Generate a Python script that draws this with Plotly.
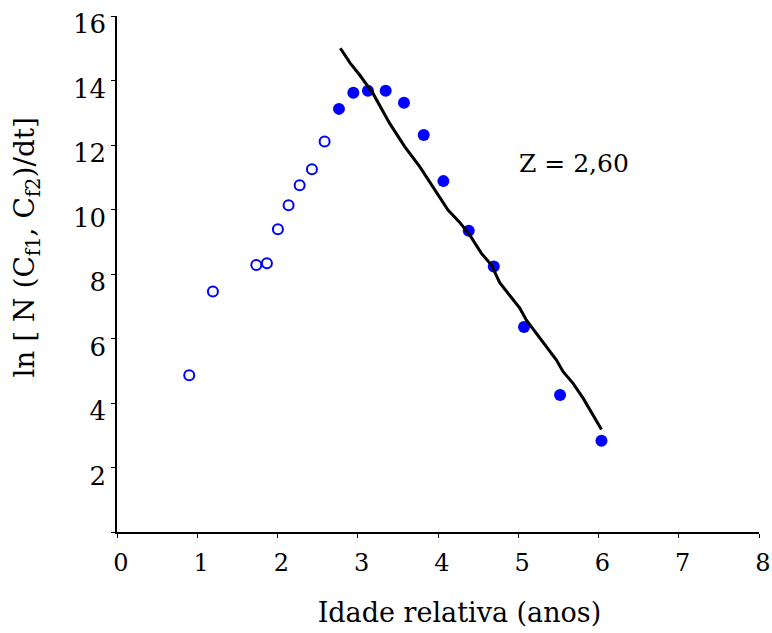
import plotly.graph_objects as go

# Open circles (ascending limb)
open_x = [0.90, 1.195, 1.736, 1.868, 2.005, 2.138, 2.276, 2.429, 2.587]
open_y = [4.86, 7.46, 8.28, 8.33, 9.39, 10.13, 10.75, 11.25, 12.11]

# Filled circles (descending limb)
fill_x = [2.766, 2.945, 3.127, 3.348, 3.576, 3.822, 4.067, 4.383, 4.695, 5.072, 5.521, 6.037]
fill_y = [13.12, 13.62, 13.68, 13.68, 13.31, 12.31, 10.88, 9.34, 8.23, 6.36, 4.25, 2.83]

# Fitted line (as drawn)
line_x = [2.783, 2.908, 3.024, 3.190, 3.398, 3.585, 3.772, 3.938, 4.125, 4.271, 4.395,
          4.541, 4.666, 4.769, 4.894, 5.019, 5.102, 5.227, 5.393, 5.476, 5.559, 5.683,
          5.808, 5.933, 6.037]
line_y = [15.00, 14.53, 14.17, 13.60, 12.67, 11.95, 11.33, 10.71, 9.98, 9.60, 9.21,
          8.64, 8.28, 7.73, 7.35, 6.94, 6.57, 6.16, 5.64, 5.33, 4.97, 4.61,
          4.15, 3.63, 3.18]

x_ticks = [0, 1, 2, 3, 4, 5, 6, 7, 8]
y_ticks = [0, 2, 4, 6, 8, 10, 12, 14, 16]
y_ticktext = ["", "2", "4", "6", "8", "10", "12", "14", "16"]

FONT = "DejaVu Serif, serif"
NB = "&nbsp;"

fig = go.Figure()
fig.add_trace(go.Scatter(x=open_x, y=open_y, mode="markers",
                         marker=dict(symbol="circle-open", size=10, color="#0000FF",
                                     line=dict(width=2, color="#0000FF")),
                         showlegend=False))
fig.add_trace(go.Scatter(x=fill_x, y=fill_y, mode="markers",
                         marker=dict(symbol="circle", size=12, color="#0000FF"),
                         showlegend=False))
fig.add_trace(go.Scatter(x=line_x, y=line_y, mode="lines",
                         line=dict(color="black", width=3),
                         showlegend=False))

fig.add_annotation(x=5.70, y=11.44, text="Z = 2,60", showarrow=False,
                   font=dict(family=FONT, size=25, color="black"))

fig.update_layout(
    width=772, height=633,
    margin=dict(l=117, r=13, t=16, b=101),
    plot_bgcolor="white", paper_bgcolor="white",
    font=dict(family=FONT, color="black"),
    xaxis=dict(range=[0, 8], tickvals=x_ticks, showgrid=False, zeroline=False,
               showline=True, linecolor="black", linewidth=1.5,
               ticks="outside", ticklen=4, tickcolor="black",
               ticklabelstandoff=4, ticklabelshift=4, automargin=False,
               tickfont=dict(family=FONT, size=24),
               title=dict(text=NB * 5 + "Idade relativa (anos)",
                          font=dict(family=FONT, size=27), standoff=28)),
    yaxis=dict(range=[0, 16], tickvals=y_ticks, ticktext=y_ticktext, showgrid=False,
               zeroline=False, showline=True, linecolor="black", linewidth=1.5,
               ticks="outside", ticklen=4, tickcolor="black",
               ticklabelshift=8, automargin=False,
               tickfont=dict(family=FONT, size=26),
               title=dict(text=NB * 6 + "ln [ N (C<sub>f1</sub>, C<sub>f2</sub>)/dt]",
                          font=dict(family=FONT, size=28), standoff=30)),
)

fig.write_html("out.html")
